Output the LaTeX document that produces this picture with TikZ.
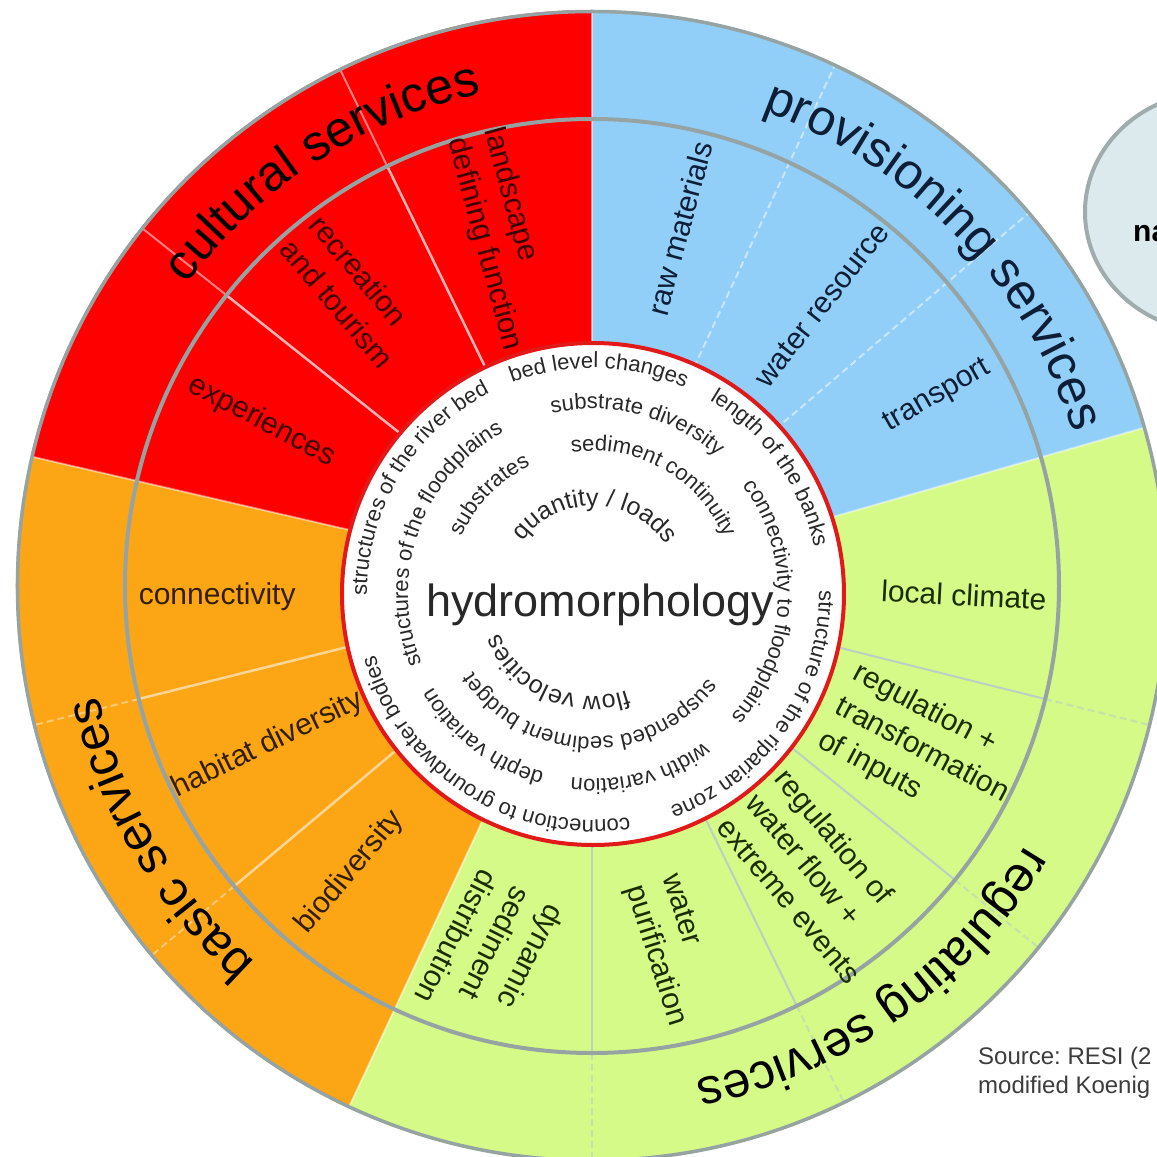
\documentclass[tikz,border=0pt]{standalone}
\usepackage{fontspec}
\setmainfont{Liberation Sans}
\usetikzlibrary{decorations.text,shapes.geometric}
\frenchspacing
\definecolor{cultred}{RGB}{255,0,0}
\definecolor{provblue}{RGB}{145,207,248}
\definecolor{basicorange}{RGB}{252,166,22}
\definecolor{reggreen}{RGB}{214,250,135}
\definecolor{ringgray}{RGB}{150,163,163}
\definecolor{circred}{RGB}{225,25,25}
\definecolor{innertext}{RGB}{40,40,40}
\definecolor{redtext}{RGB}{60,0,0}
\definecolor{bluetext}{RGB}{15,30,55}
\definecolor{orangetext}{RGB}{50,30,0}
\definecolor{greentext}{RGB}{25,45,0}
\definecolor{ellfill}{RGB}{220,234,237}
\definecolor{ellline}{RGB}{160,172,172}
\definecolor{greenline}{RGB}{185,208,195}
\definecolor{srctext}{RGB}{60,60,60}

% curved text: radius, centre angle, half span, font size, colour, text
\newcommand{\ringtext}[6]{%
  \path[decorate, decoration={text along path, text align=center, text color=#5,
    text={|\fontsize{#4}{#4}\selectfont|#6}}]
    (#2+#3:#1) arc[start angle=#2+#3, end angle=#2-#3, radius=#1];}

\tikzset{
  sublabel/.style={font=\fontsize{30}{38}\selectfont, align=left, inner sep=0pt},
  divred/.style={draw=white, draw opacity=0.7, line width=2.5pt},
  divredout/.style={draw=white, draw opacity=0.5, line width=2pt},
  divblue/.style={draw=white, draw opacity=0.5, line width=2pt, dash pattern=on 7pt off 4pt},
  divorange/.style={draw=white, draw opacity=0.55, line width=2.5pt},
  divorangeout/.style={draw=white, draw opacity=0.4, line width=2pt, dash pattern=on 7pt off 4pt},
  divgreen/.style={draw=greenline, line width=2pt},
  divgreenout/.style={draw=greenline, draw opacity=0.6, line width=2pt, dash pattern=on 7pt off 4pt},
  majorline/.style={draw=white, draw opacity=0.45, line width=2pt},
}

\begin{document}
\begin{tikzpicture}[x=1pt,y=1pt]
\clip (-592,-571) rectangle (565,586);
\fill[white] (-592,-571) rectangle (565,586);

% sectors
\fill[cultred] (0,0) -- (90:576) arc[start angle=90,end angle=167,radius=576] -- cycle;
\fill[basicorange] (0,0) -- (167:576) arc[start angle=167,end angle=245,radius=576] -- cycle;
\fill[reggreen] (0,0) -- (245:576) arc[start angle=245,end angle=376,radius=576] -- cycle;
\fill[provblue] (0,0) -- (16:576) arc[start angle=16,end angle=90,radius=576] -- cycle;

% dividers
\foreach \a in {116,141.5} {\draw[divred] (\a:230) -- (\a:467); \draw[divredout] (\a:467) -- (\a:576);}
\foreach \a in {40.5,65} {\draw[divblue] (\a:230) -- (\a:576);}
\foreach \a in {194,220} {\draw[divorange] (\a:230) -- (\a:467); \draw[divorangeout] (\a:467) -- (\a:576);}
\foreach \a in {270,296,321,346} {\draw[divgreen] (\a:230) -- (\a:467); \draw[divgreenout] (\a:467) -- (\a:576);}
\foreach \a in {90,167,245,16} {\draw[majorline] (\a:230) -- (\a:576);}

% rings
\draw[ringgray, line width=4pt] (0,0) circle[radius=467];
\draw[ringgray, line width=3.5pt] (0,0) circle[radius=574.5];

% sub-service labels
\node[sublabel, text=redtext, rotate=-28] (exp) at (153.5:369) {experiences};
\node[sublabel, text=redtext, rotate=-50] (rec) at (129.2:380) {recreation\\and tourism};
\node[sublabel, text=redtext, rotate=-75] (land) at (104.5:358) {landscape\\defining function};

\node[sublabel, text=bluetext, rotate=75] (raw) at (76.2:368) {raw materials};
\node[sublabel, text=bluetext, rotate=52] (wat) at (50.7:363) {water resource};
\node[sublabel, text=bluetext, rotate=30] (tra) at (28.8:394) {transport};

\node[sublabel, text=orangetext, rotate=0] (con) at (181.7:375) {connectivity};
\node[sublabel, text=orangetext, rotate=26] (hab) at (206.1:361) {habitat diversity};
\node[sublabel, text=orangetext, rotate=50] (bio) at (229.8:375) {biodiversity};

\node[sublabel, text=greentext, rotate=-117] (dyn) at (254.6:382) {dynamic\\sediment\\distribution};
\node[sublabel, text=greentext, rotate=-72.6] (pur) at (282.5:373) {water\\purification};
\node[sublabel, text=greentext, rotate=-50] (flw) at (308:368) {regulation of\\water flow +\\extreme events};
\node[sublabel, text=greentext, rotate=-28] (inp) at (333.5:369) {regulation +\\transformation\\of inputs};
\node[sublabel, text=greentext, rotate=-3] (clim) at (358.6:372) {local climate};

% main service labels
\ringtext{505}{123}{60}{50}{black}{cultural services}
\ringtext{505}{44}{60}{50}{bluetext}{provisioning services}
\ringtext{505}{210.4}{60}{50}{black}{basic services}
\ringtext{505}{305.5}{60}{50}{black}{regulating services}

% inner circle
\draw[circred, line width=4pt, fill=white] (1,-8) circle[radius=251];

\begin{scope}[shift={(1,-8)}]
\ringtext{226}{88.5}{85}{22}{innertext}{bed level changes}
\ringtext{226}{35.4}{85}{22}{innertext}{length of the banks}
\ringtext{226}{-34.7}{85}{22}{innertext}{structure of the riparian zone}
\ringtext{226}{237.4}{85}{22}{innertext}{connection to groundwater bodies}
\ringtext{226}{148.8}{85}{22}{innertext}{structures of the river bed}

\ringtext{185}{75.4}{85}{22}{innertext}{substrate diversity}
\ringtext{185}{-2.85}{85}{22}{innertext}{connectivity to floodplains}
\ringtext{185}{-75}{85}{22}{innertext}{width variation}
\ringtext{185}{232.4}{85}{22}{innertext}{depth variation}
\ringtext{185}{160.5}{85}{22}{innertext}{structures of the floodplains}

\ringtext{143}{136.2}{85}{22}{innertext}{substrates}
\ringtext{143}{60.9}{85}{22}{innertext}{sediment continuity}
\ringtext{143}{268.3}{85}{22}{innertext}{suspended sediment budget}

\ringtext{88}{88.6}{85}{25}{innertext}{quantity / loads}
\ringtext{102}{246}{85}{25}{innertext}{flow velocities}
\end{scope}

\node[anchor=base, inner sep=0pt, font=\fontsize{45}{45}\selectfont, text=innertext] (hydro) at (8,-30) {hydromorphology};

% ellipse at top right
\node[ellipse, draw=ellline, line width=4pt, fill=ellfill, minimum width=260pt, minimum height=240pt, inner sep=0pt] (ell) at (623,374) {};
\node[anchor=base west, inner sep=0pt, font=\bfseries\fontsize{30}{30}\selectfont] (na) at (541,344) {na};

% source
\node[anchor=base west, inner sep=0pt, align=left, font=\fontsize{24}{29}\selectfont, text=srctext] (src) at (386,-507) {Source: RESI (2\\modified Koenig};
\end{tikzpicture}
\end{document}
